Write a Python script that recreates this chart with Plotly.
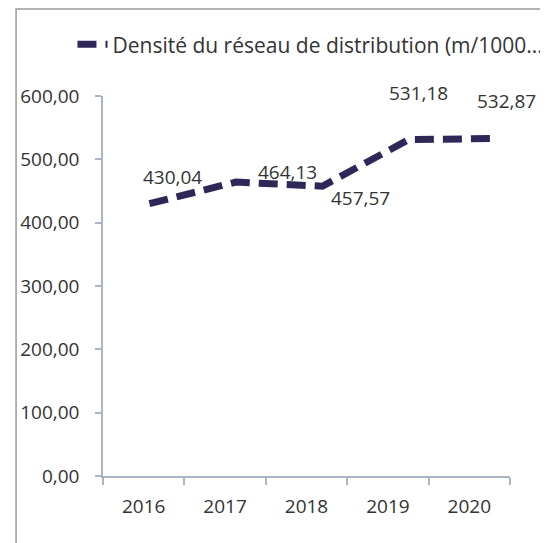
import plotly.graph_objects as go

years = ["2016", "2017", "2018", "2019", "2020"]
year_num = [2016, 2017, 2018, 2019, 2020]
densite = [430.04, 464.13, 457.57, 531.18, 532.87]
series_name = "Densité du réseau de distribution (m/1000..."
y_ticks = [0, 100, 200, 300, 400, 500, 600]

def fr(v):
    return f"{v:.2f}".replace(".", ",")

# label offsets (pixels) relative to each point
label_dx = [23, 52, 38, 10, 11]
label_dy = [27, 10, -12, 47, 38]

FONT = "Open Sans"
TXT = "#333333"
AX = "#a9b4c4"
LINE = "#2d2858"

fig = go.Figure()
# invisible trace to set up the category axis
fig.add_trace(go.Scatter(x=years, y=[None] * len(years), showlegend=False,
                         hoverinfo="skip", xaxis="x", yaxis="y"))
fig.add_trace(go.Scatter(
    x=year_num, y=densite, mode="lines", name=series_name,
    line=dict(color=LINE, width=7, dash="19px,9px"),
    xaxis="x2", yaxis="y",
))

for xv, yv, dx, dy in zip(year_num, densite, label_dx, label_dy):
    fig.add_annotation(x=xv, y=yv, xref="x2", yref="y", text=fr(yv),
                       showarrow=False, xshift=dx, yshift=dy,
                       xanchor="center", yanchor="middle",
                       font=dict(family=FONT, size=19, color=TXT))

fig.update_layout(
    width=548, height=543,
    margin=dict(l=90, r=46, t=88, b=75),
    paper_bgcolor="white", plot_bgcolor="white",
    font=dict(family=FONT, size=19, color=TXT),
    showlegend=True,
    legend=dict(orientation="h", x=-0.075, xanchor="left", y=1.135, yanchor="middle",
                font=dict(family=FONT, size=21, color=TXT),
                bgcolor="rgba(0,0,0,0)", itemwidth=30),
    xaxis=dict(type="category", categoryorder="array", categoryarray=years,
               range=[-0.5, 4.5], tickson="boundaries",
               showline=True, linecolor=AX, linewidth=1.5,
               ticks="outside", ticklen=7, tickcolor=AX, tickwidth=1.5,
               showgrid=False, zeroline=False, ticklabelstandoff=12,
               tickfont=dict(family=FONT, size=19, color=TXT)),
    xaxis2=dict(overlaying="x", range=[2015.463, 2020.171], visible=False),
    yaxis=dict(range=[0, 600], tickvals=y_ticks, ticktext=[fr(v) for v in y_ticks],
               showline=True, linecolor=AX, linewidth=1.5,
               ticks="outside", ticklen=6, tickcolor=AX, tickwidth=1.5,
               showgrid=False, zeroline=False, ticklabelstandoff=12,
               tickfont=dict(family=FONT, size=19, color=TXT)),
    shapes=[dict(type="rect", xref="paper", yref="paper",
                 x0=-0.2136, x1=1.3, y0=-0.3, y1=1.229,
                 line=dict(color="#9a9a9a", width=1.5), fillcolor="rgba(0,0,0,0)",
                 layer="below")],
)

fig.write_html("out.html")
